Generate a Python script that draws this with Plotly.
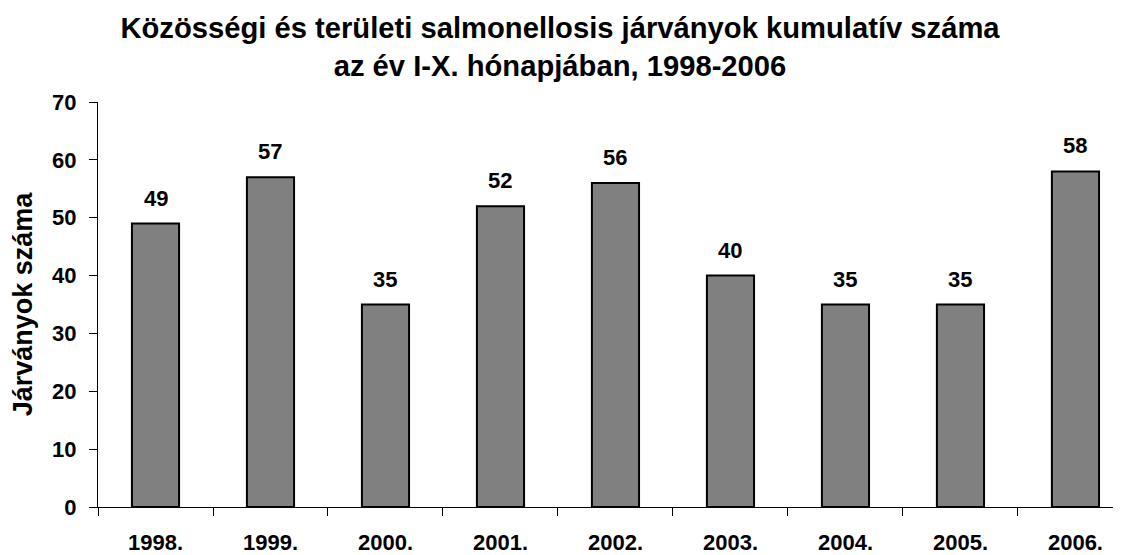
import plotly.graph_objects as go

years = ["1998.", "1999.", "2000.", "2001.", "2002.", "2003.", "2004.", "2005.", "2006."]
counts = [49, 57, 35, 52, 56, 40, 35, 35, 58]
y_ticks = [0, 10, 20, 30, 40, 50, 60, 70]

title_text = "<b>Közösségi és területi salmonellosis járványok kumulatív száma<br>az év I-X. hónapjában, 1998-2006</b>"
y_title = "<b>Járványok száma</b>"

FONT = "Liberation Sans, Arial, sans-serif"

fig = go.Figure()
fig.add_trace(go.Bar(
    x=years, y=counts,
    width=0.41,
    marker=dict(color="#808080", line=dict(color="#000000", width=2)),
    hoverinfo="skip",
))

for i, v in enumerate(counts):
    fig.add_annotation(
        x=i, y=v, xref="x", yref="y",
        text=f"<b>{v}</b>", showarrow=False,
        yanchor="bottom", yshift=11,
        font=dict(family=FONT, size=22, color="#000000"),
    )

fig.update_layout(
    width=1113, height=547,
    margin=dict(l=90, r=0, t=94, b=46, pad=0),
    paper_bgcolor="#ffffff", plot_bgcolor="#ffffff",
    showlegend=False,
    font=dict(family=FONT, color="#000000"),
    title=dict(
        text=title_text,
        x=(560 - 8) / 1113, xanchor="center",
        y=1 - 30 / 547, yanchor="top", yref="container",
        font=dict(family=FONT, size=29.2, color="#000000"),
    ),
    xaxis=dict(
        type="category",
        range=[-0.5, 8.396],
        showline=True, linecolor="#000000", linewidth=1,
        ticks="outside", tickson="boundaries", ticklen=8, tickcolor="#000000",
        tickfont=dict(family=FONT, size=22, color="#000000"),
        tickprefix="<b>", ticksuffix="</b>",
        ticklabelstandoff=16,
        showgrid=False, zeroline=False,
    ),
    yaxis=dict(
        range=[0, 70],
        tickvals=y_ticks,
        ticktext=[f"<b>{t}</b>" for t in y_ticks],
        showline=True, linecolor="#000000", linewidth=1,
        ticks="outside", ticklen=8, tickcolor="#000000",
        tickfont=dict(family=FONT, size=22, color="#000000"),
        ticklabelstandoff=8,
        showgrid=False, zeroline=False,
        title=dict(text=y_title, font=dict(family=FONT, size=27, color="#000000"), standoff=24),
    ),
)

fig.write_html("out.html")
